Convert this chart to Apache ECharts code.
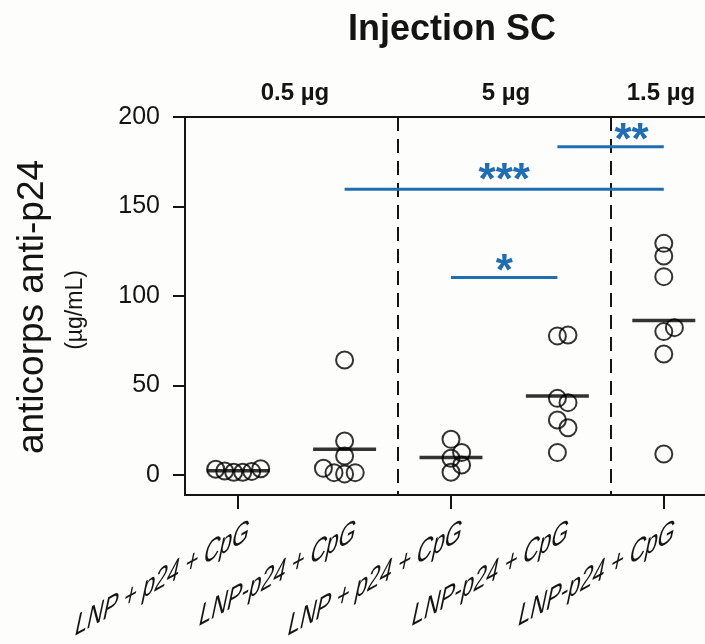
<!DOCTYPE html>
<html><head><meta charset="utf-8">
<script src="https://cdn.jsdelivr.net/npm/echarts@6/dist/echarts.min.js"></script>
<style>html,body{margin:0;padding:0;background:#fdfdfc}#c{width:705px;height:644px}</style>
</head><body><div id="c"></div>
<script>
// ---- data ----
const categories = ['LNP + p24 + CpG', 'LNP-p24 + CpG', 'LNP + p24 + CpG', 'LNP-p24 + CpG', 'LNP-p24 + CpG'];
const doseLabels = ['0.5 µg', '5 µg', '1.5 µg'];
const g1 = [3.2, 2.2, 1.5, 1.5, 2.0, 3.5];
const g2 = [64.2, 19.0, 10.6, 3.7, 1.3, 0.6, 1.3];
const g3 = [19.9, 9.3, 12.5, 1.5, 5.6];
const g4 = [77.7, 78.2, 42.8, 40.4, 30.7, 26.4, 12.5];
const g5 = [129.4, 122.3, 110.8, 80.1, 82.3, 67.6, 11.7];
const yTicks = [0, 50, 100, 150, 200];
const sigFrom = [2, 1, 3];
const sigTo = [3, 4, 4];
const sigY = [110.3, 159.6, 183.4];
const sigText = ['*', '***', '**'];
const titleText = 'Injection SC';
const yTitle = 'anticorps anti-p24';
const yUnit = '(µg/mL)';

// ---- layout / style ----
const FONT = '"Liberation Sans", Arial, Helvetica, sans-serif';
const INK = '#141414';
const BLUE = '#1f6db3';
const GRID = {left: 185, top: 117, width: 532, height: 378, outerBoundsMode: 'none', containLabel: false};
const Y_MIN = -11.2, Y_MAX = 200;
const SYM = 17;
const STEP = 10.6;
const pxPerUnit = GRID.height / (Y_MAX - Y_MIN);
const groups = [g1, g2, g3, g4, g5];

function swarmOffsets(vals) {
  const idx = vals.map((v, i) => i).sort((a, b) => vals[b] - vals[a]);
  const clusters = [];
  let cur = null;
  idx.forEach(i => {
    if (cur && (vals[cur[0]] - vals[i]) * pxPerUnit < SYM * 0.5) cur.push(i);
    else { cur = [i]; clusters.push(cur); }
  });
  const off = new Array(vals.length).fill(0);
  clusters.forEach(c => {
    c.sort((a, b) => a - b);
    const n = c.length;
    c.forEach((pi, k) => {
      let o;
      if (n <= 2) o = k * STEP;
      else if (n === 4) o = (k - 2) * STEP;
      else { const s = n > 5 ? 9 : STEP; o = (k - (n - 1) / 2) * s; }
      off[pi] = o;
    });
  });
  return off;
}

const pointData = [];
const meanData = [];
groups.forEach((g, gi) => {
  const off = swarmOffsets(g);
  g.forEach((v, i) => pointData.push({value: [gi, v], symbolOffset: [off[i], 0]}));
  meanData.push([gi, g.reduce((a, b) => a + b, 0) / g.length]);
});

const chart = echarts.init(document.getElementById('c'), null, {renderer: 'canvas'});
const option = {
  backgroundColor: '#fdfdfc',
  animation: false,
  grid: GRID,
  xAxis: [{
    type: 'category', data: categories, position: 'bottom', boundaryGap: true,
    axisLine: {show: true, onZero: false, lineStyle: {color: INK, width: 2}},
    axisTick: {show: true, alignWithLabel: true, length: 14, lineStyle: {color: INK, width: 2}},
    axisLabel: {show: false},
    splitLine: {show: true, interval: (i) => i === 2 || i === 4,
      lineStyle: {color: INK, width: 2, type: [14, 8]}}
  }, {
    type: 'category', data: categories, position: 'top',
    axisLine: {show: true, onZero: false, lineStyle: {color: INK, width: 2}},
    axisTick: {show: false}, axisLabel: {show: false}, splitLine: {show: false}
  }],
  yAxis: {
    type: 'value', min: Y_MIN, max: Y_MAX,
    axisLine: {show: true, onZero: false, lineStyle: {color: INK, width: 2}},
    axisTick: {show: true, customValues: yTicks, length: 12, lineStyle: {color: INK, width: 2}},
    axisLabel: {show: true, customValues: yTicks, fontSize: 25, fontFamily: FONT, color: INK, margin: 25},
    splitLine: {show: false}
  },
  series: [{
    type: 'scatter', data: pointData, symbol: 'circle', symbolSize: SYM,
    itemStyle: {color: 'rgba(0,0,0,0)', borderColor: '#000', borderWidth: 2},
    z: 3
  }, {
    type: 'scatter', data: meanData, symbol: 'rect', symbolSize: [63, 3.5],
    itemStyle: {color: '#000'}, z: 4
  }, {
    type: 'custom', z: 5,
    data: sigY.map((y, i) => [sigFrom[i], sigTo[i], y, i]),
    encode: {x: [0, 1], y: 2},
    renderItem: function (params, api) {
      const i = api.value(3);
      const p1 = api.coord([api.value(0), api.value(2)]);
      const p2 = api.coord([api.value(1), api.value(2)]);
      const dx = i === 2 ? 21 : 0;
      const lift = i === 1 ? 18 : 16;
      return {
        type: 'group', children: [
          {type: 'line', shape: {x1: p1[0], y1: p1[1], x2: p2[0], y2: p2[1]},
           style: {stroke: BLUE, lineWidth: 3}},
          {type: 'text', style: {text: sigText[i], x: (p1[0] + p2[0]) / 2 + dx, y: p1[1] - lift + 11,
            fill: BLUE, font: 'bold 44px ' + FONT, textAlign: 'center', textVerticalAlign: 'middle'}}
        ]
      };
    }
  }]
};
chart.setOption(option);

// affine transform for the slanted category labels
const ang = 29 * Math.PI / 180, lean = 12 * Math.PI / 180, sa = 1, sb = 1.35;
const m00 = sa * Math.cos(ang), m10 = -sa * Math.sin(ang);
const m01 = -sb * Math.sin(lean), m11 = sb * Math.cos(lean);
const E = (m00 + m11) / 2, F = (m00 - m11) / 2, G = (m10 + m01) / 2, H = (m10 - m01) / 2;
const Q = Math.hypot(E, H), R = Math.hypot(F, G);
const sx = Q + R, sy = Q - R;
const a1 = Math.atan2(G, F), a2 = Math.atan2(H, E);
const theta = (a2 - a1) / 2, phi = (a2 + a1) / 2;

const axisY = chart.convertToPixel({yAxisIndex: 0}, Y_MIN);
const graphics = [];
categories.forEach((c, i) => {
  const px = chart.convertToPixel({xAxisIndex: 0}, i);
  graphics.push({
    type: 'group', x: px + 11, y: axisY + 36, rotation: -phi,
    children: [{type: 'group', scaleX: sx, scaleY: sy, children: [{
      type: 'text', rotation: -theta,
      style: {text: c, font: '25px ' + FONT, fill: INK, textAlign: 'right', textVerticalAlign: 'middle'}
    }]}]
  });
});
graphics.push({type: 'text', x: 452, y: 30, style: {text: titleText, font: 'bold 36px ' + FONT, fill: INK, textAlign: 'center', textVerticalAlign: 'middle'}});
const doseX = [295, 506, 661];
doseLabels.forEach((d, i) => graphics.push({type: 'text', x: doseX[i], y: 93,
  style: {text: d, font: 'bold 24px ' + FONT, fill: INK, textAlign: 'center', textVerticalAlign: 'middle'}}));
graphics.push({type: 'text', x: 33, y: 307, rotation: Math.PI / 2,
  style: {text: yTitle, font: '37px ' + FONT, fill: INK, textAlign: 'center', textVerticalAlign: 'middle'}});
graphics.push({type: 'text', x: 76, y: 310, rotation: Math.PI / 2,
  style: {text: yUnit, font: '23px ' + FONT, fill: INK, textAlign: 'center', textVerticalAlign: 'middle'}});
chart.setOption({graphic: graphics});
</script>
</body></html>
